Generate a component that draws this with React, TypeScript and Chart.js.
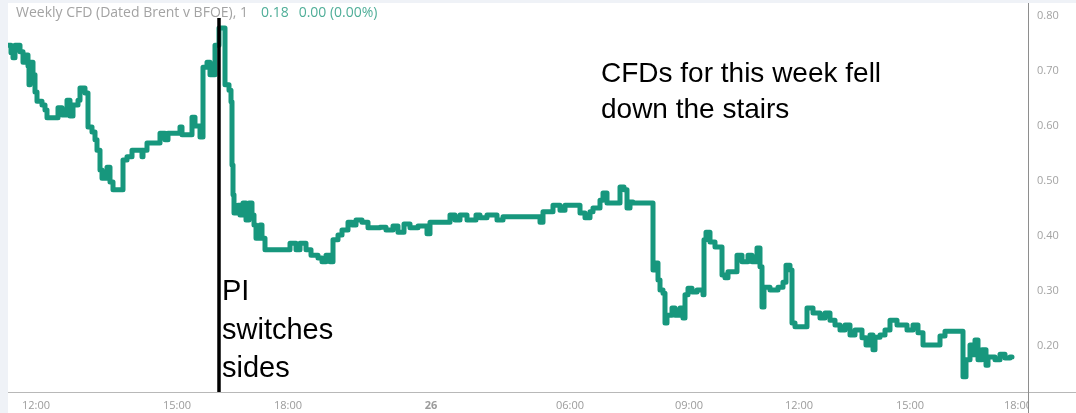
import { useEffect, useRef } from "react";
import { Chart, registerables } from "chart.js";
Chart.register(...registerables);

// Trading-time index (compressed, non-trading hours removed) and CFD value
const times = [
  0, 3, 5, 7, 12, 15, 18, 20, 21, 22, 25, 27, 29, 34, 37, 39, 50, 54, 59, 62, 65, 70, 72, 77,
  80, 84, 87, 89, 92, 94, 99, 102, 105, 115, 119, 124, 134, 135, 139, 152, 157, 160, 172, 174,
  184, 187, 192, 195, 199, 202, 207, 211, 217, 221, 223, 224, 225, 226, 230, 232, 235, 238, 241,
  244, 246, 248, 252, 254, 257, 282, 288, 292, 298, 303, 310, 314, 318, 322, 325, 330, 334, 340,
  344, 348, 354, 360, 372, 378, 385, 390, 396, 402, 410, 419, 422, 442, 447, 452, 459, 468, 472,
  479, 489, 495, 532, 535, 545, 552, 557, 572, 577, 582, 585, 592, 595, 599, 612, 616, 619, 622,
  625, 645, 648, 650, 652, 655, 657, 659, 664, 667, 672, 675, 677, 680, 684, 689, 695, 696, 698,
  702, 707, 714, 717, 720, 729, 734, 740, 744, 749, 752, 754, 756, 762, 770, 775, 778, 782, 784,
  787, 799, 805, 812, 817, 822, 827, 832, 837, 842, 847, 854, 858, 862, 865, 867, 872, 877, 882,
  889, 899, 905, 910, 915, 932, 937, 955, 958, 962, 965, 967, 970, 974, 978, 980, 987, 992, 997,
  1002, 1004,
];
const values = [
  0.747, 0.733, 0.724, 0.747, 0.735, 0.716, 0.729, 0.709, 0.675, 0.716, 0.693, 0.662, 0.645,
  0.638, 0.629, 0.615, 0.633, 0.62, 0.647, 0.618, 0.638, 0.647, 0.669, 0.66, 0.598, 0.589, 0.575,
  0.556, 0.52, 0.505, 0.525, 0.498, 0.484, 0.538, 0.544, 0.556, 0.544, 0.556, 0.569, 0.587, 0.575,
  0.587, 0.598, 0.584, 0.616, 0.6, 0.58, 0.707, 0.716, 0.693, 0.747, 0.778, 0.675, 0.665, 0.644,
  0.529, 0.475, 0.442, 0.456, 0.438, 0.46, 0.429, 0.46, 0.438, 0.42, 0.396, 0.42, 0.396, 0.375,
  0.387, 0.375, 0.387, 0.375, 0.365, 0.36, 0.353, 0.365, 0.353, 0.393, 0.402, 0.411, 0.425, 0.42,
  0.429, 0.425, 0.415, 0.416, 0.411, 0.418, 0.407, 0.422, 0.415, 0.418, 0.404, 0.425, 0.438, 0.429,
  0.438, 0.429, 0.438, 0.433, 0.438, 0.429, 0.435, 0.425, 0.444, 0.456, 0.447, 0.456, 0.442, 0.433,
  0.444, 0.451, 0.465, 0.478, 0.46, 0.489, 0.484, 0.451, 0.462, 0.46, 0.338, 0.351, 0.32, 0.302,
  0.296, 0.242, 0.256, 0.269, 0.256, 0.269, 0.251, 0.293, 0.305, 0.298, 0.302, 0.293, 0.393, 0.407,
  0.389, 0.38, 0.329, 0.324, 0.335, 0.365, 0.353, 0.365, 0.353, 0.378, 0.344, 0.271, 0.307, 0.302,
  0.307, 0.316, 0.347, 0.338, 0.242, 0.235, 0.269, 0.26, 0.251, 0.26, 0.247, 0.238, 0.229, 0.238,
  0.22, 0.229, 0.215, 0.202, 0.22, 0.193, 0.216, 0.22, 0.229, 0.247, 0.238, 0.229, 0.238, 0.224,
  0.202, 0.218, 0.227, 0.144, 0.175, 0.202, 0.184, 0.211, 0.175, 0.193, 0.165, 0.18, 0.175, 0.185,
  0.178, 0.18, 0.18,
];

const xTickPositions = [28, 169, 280, 423, 562, 681, 791, 902, 1010];
const xTickLabels = ["12:00", "15:00", "18:00", "26", "06:00", "09:00", "12:00", "15:00", "18:00"];
const yTickValues = [0.2, 0.3, 0.4, 0.5, 0.6, 0.7, 0.8];

const X_MIN = 0;
const X_MAX = 1020;
const Y_MIN = 0.1164;
const Y_MAX = 0.8236;

const switchTime = 211; // when PI switched sides

const titleMain = "Weekly CFD (Dated Brent v BFOE), 1";
const titleLast = "0.18";
const titleChange = "0.00 (0.00%)";
const noteLeft = ["PI", "switches", "sides"];
const noteRight = ["CFDs for this week fell", "down the stairs"];

const LINE = "#17977d";

const overlay = {
  id: "overlay",
  afterDraw(chart: any) {
    const { ctx, chartArea, scales, width, height } = chart;
    const xs = scales.x;
    ctx.save();
    // mask the clipped corner under price axis
    ctx.fillStyle = "#ffffff";
    ctx.fillRect(chartArea.right + 1, chartArea.bottom + 1, width - chartArea.right, height - chartArea.bottom);
    // axis lines
    ctx.lineWidth = 1;
    ctx.strokeStyle = "#b8b8b8";
    ctx.beginPath();
    ctx.moveTo(0, chartArea.bottom + 0.5);
    ctx.lineTo(width, chartArea.bottom + 0.5);
    ctx.stroke();
    ctx.strokeStyle = "#8e8e8e";
    ctx.beginPath();
    ctx.moveTo(chartArea.right + 0.5, 0);
    ctx.lineTo(chartArea.right + 0.5, height);
    ctx.stroke();

    // header
    ctx.font = "14px 'Open Sans'";
    ctx.textBaseline = "middle";
    ctx.textAlign = "left";
    let x = 8;
    const ty = 10;
    ctx.fillStyle = "#a3a3a3";
    ctx.fillText(titleMain, x, ty);
    x += ctx.measureText(titleMain).width + 13;
    ctx.fillStyle = "#4fae98";
    ctx.fillText(titleLast, x, ty);
    x += ctx.measureText(titleLast).width + 10;
    ctx.fillText(titleChange, x, ty);

    // vertical event line
    const ex = xs.getPixelForValue(switchTime);
    ctx.strokeStyle = "#000000";
    ctx.lineWidth = 3.5;
    ctx.beginPath();
    ctx.moveTo(ex, 15);
    ctx.lineTo(ex, chartArea.bottom);
    ctx.stroke();

    // notes
    ctx.fillStyle = "#000000";
    ctx.textBaseline = "middle";
    ctx.font = "29px 'Liberation Sans'";
    noteLeft.forEach((s, i) => ctx.fillText(s, ex + 3, 289 + i * 38.5));
    ctx.font = "28px 'Liberation Sans'";
    const nx = xs.getPixelForValue(593);
    noteRight.forEach((s, i) => ctx.fillText(s, nx, 71 + i * 36.5));
    ctx.restore();
  },
};

export default function App() {
  const ref = useRef<HTMLCanvasElement>(null);
  useEffect(() => {
    const data = times.map((t, i) => ({ x: t, y: values[i] }));
    const chart = new Chart(ref.current!, {
      type: "line",
      data: {
        datasets: [
          {
            data,
            borderColor: LINE,
            borderWidth: 5,
            pointRadius: 0,
            stepped: true,
            fill: false,
            borderJoinStyle: "round",
            borderCapStyle: "round",
          },
        ],
      },
      options: {
        animation: false,
        responsive: false,
        devicePixelRatio: 1,
        layout: { padding: 0 },
        plugins: { legend: { display: false }, tooltip: { enabled: false }, title: { display: false } },
        scales: {
          x: {
            type: "linear",
            min: X_MIN,
            max: X_MAX,
            grid: { display: false, drawTicks: false },
            border: { display: false },
            afterBuildTicks: (s: any) => {
              s.ticks = xTickPositions.map((v) => ({ value: v }));
            },
            afterFit: (s: any) => {
              s.height = 21;
              s.paddingLeft = 0;
              s.paddingRight = 0;
            },
            ticks: {
              autoSkip: false,
              maxRotation: 0,
              padding: 7,
              color: "#9b9b9b",
              font: (c: any) => ({
                family: "'Open Sans'",
                size: 11,
                weight: xTickLabels[c.index] === "26" ? "bold" : "normal",
              }),
              callback: (_v: any, i: number) => xTickLabels[i],
            },
          },
          y: {
            type: "linear",
            position: "right",
            min: Y_MIN,
            max: Y_MAX,
            grid: { display: false, drawTicks: false },
            border: { display: false },
            afterBuildTicks: (s: any) => {
              s.ticks = yTickValues.map((v) => ({ value: v }));
            },
            afterFit: (s: any) => {
              s.width = 48;
              s.paddingTop = 0;
              s.paddingBottom = 0;
            },
            ticks: {
              padding: 9,
              color: "#a3a3a3",
              font: { family: "'Open Sans'", size: 11 },
              callback: (v: any) => Number(v).toFixed(2),
            },
          },
        },
      },
      plugins: [overlay],
    });
    return () => chart.destroy();
  }, []);
  return (
    <div style={{ position: "fixed", inset: 0, background: "#eff2f7" }}>
      <div style={{ position: "absolute", left: 8, top: 3, width: 1068, height: 410, background: "#ffffff" }}>
        <canvas ref={ref} width={1068} height={410} style={{ display: "block", width: 1068, height: 410 }} />
      </div>
    </div>
  );
}
